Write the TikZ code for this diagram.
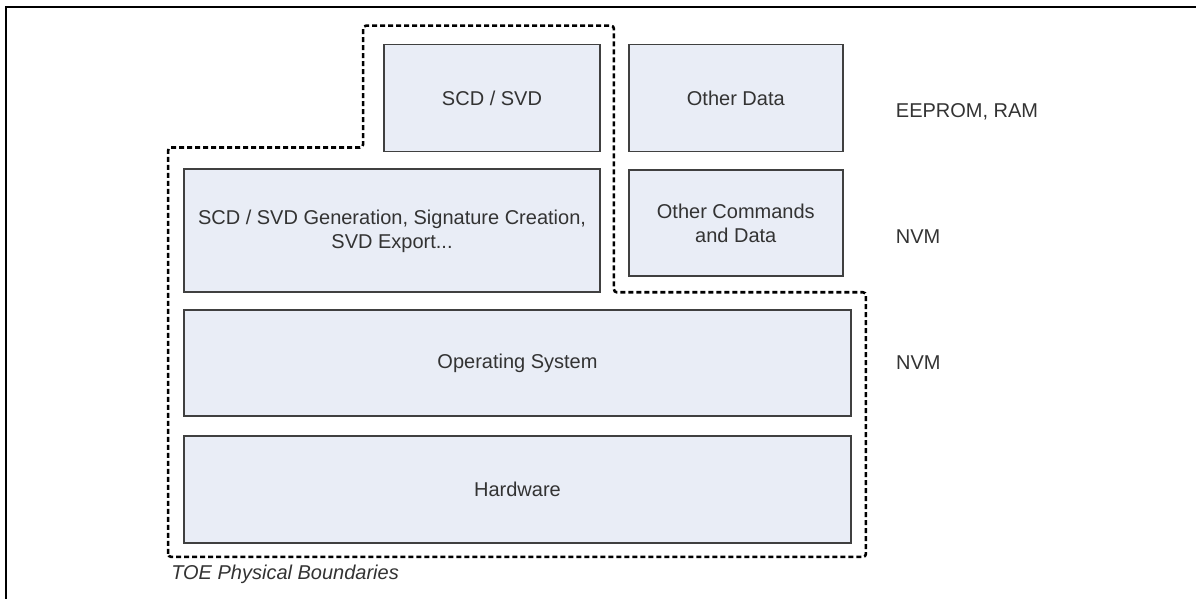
\documentclass[tikz,border=0pt]{standalone}
\usepackage{fontspec}
\setmainfont{Liberation Sans}
\usetikzlibrary{
  positioning,
  calc
}
\usepackage{xcolor}
\definecolor{layerFill}{rgb}{0.9140625,0.9296875,0.96484375}
\definecolor{layerDraw}{rgb}{0.25,0.25,0.25}
\definecolor{layerText}{rgb}{0.2,0.2,0.2}
\tikzset{
  layerBox/.style={
    rectangle,
    draw=layerDraw,
    line width=1.8pt,
    fill=layerFill,
    text=layerText,
    align=center,
    inner sep=0pt,
    font=\fontsize{20}{24}\selectfont
  }
}
\tikzset{
  memLabel/.style={
    anchor=base west,
    inner sep=0pt,
    text=layerText,
    font=\fontsize{20}{24}\selectfont
  }
}
\tikzset{
  toeBoundary/.style={
    draw=black,
    line width=2.6pt,
    dash pattern=on 5pt off 3pt,
    rounded corners=3pt
  }
}

\begin{document}
\begin{tikzpicture}[x=1pt, y=1pt, node distance=16pt]
    \useasboundingbox (0,0) rectangle (1196,599);
    \draw[line width=2pt] (1196,592) -- (6,592) -- (6,0);
    \node[layerBox, minimum width=667pt, minimum height=107pt] (hw) at (517.5,109.5) {Hardware};
    \node[layerBox, minimum width=667pt, minimum height=106pt, above=18pt of hw] (os) {Operating System};
    \node[layerBox, minimum width=416pt, minimum height=123pt,
      above right=16pt and 0pt of os.north west] (gen)
      {SCD / SVD Generation, Signature Creation,\\SVD Export...};
    \node[layerBox, minimum width=216pt, minimum height=107pt,
      above left=16pt and 0pt of gen.north east] (scd) {SCD / SVD};
    \node[layerBox, minimum width=214pt, minimum height=106pt,
      below right=1pt and 27pt of gen.north east] (cmds) {Other Commands\\and Data};
    \node[layerBox, minimum width=214pt, minimum height=107pt, above=17pt of cmds] (other) {Other Data};
    \node[memLabel] (eeprom) at ($(other.east)+(52,-19.5)$) {EEPROM, RAM};
    \node[memLabel] (nvmCmds) at ($(cmds.east)+(52,-20)$) {NVM};
    \node[memLabel] (nvmOs) at ($(os.east)+(44,-6)$) {NVM};
    \node[memLabel, font=\fontsize{20}{24}\selectfont\itshape] (toe)
      at ($(hw.south west)+(-12,-36)$) {TOE Physical Boundaries};
    \draw[toeBoundary]
    ($(hw.south west)+(-15,-13)$)
    -- ($(gen.north west)+(-15,21)$)
    -- ($(scd.west |- gen.north)+(-20,21)$)
    -- ($(scd.north west)+(-20,18)$)
    -- ($(scd.north east)+(13,18)$)
    -- ($(scd.east |- os.north)+(13,17)$)
    -- ($(os.north east)+(14,17)$)
    -- ($(hw.south east)+(14,-13)$)
    -- cycle;
\end{tikzpicture}
\end{document}
